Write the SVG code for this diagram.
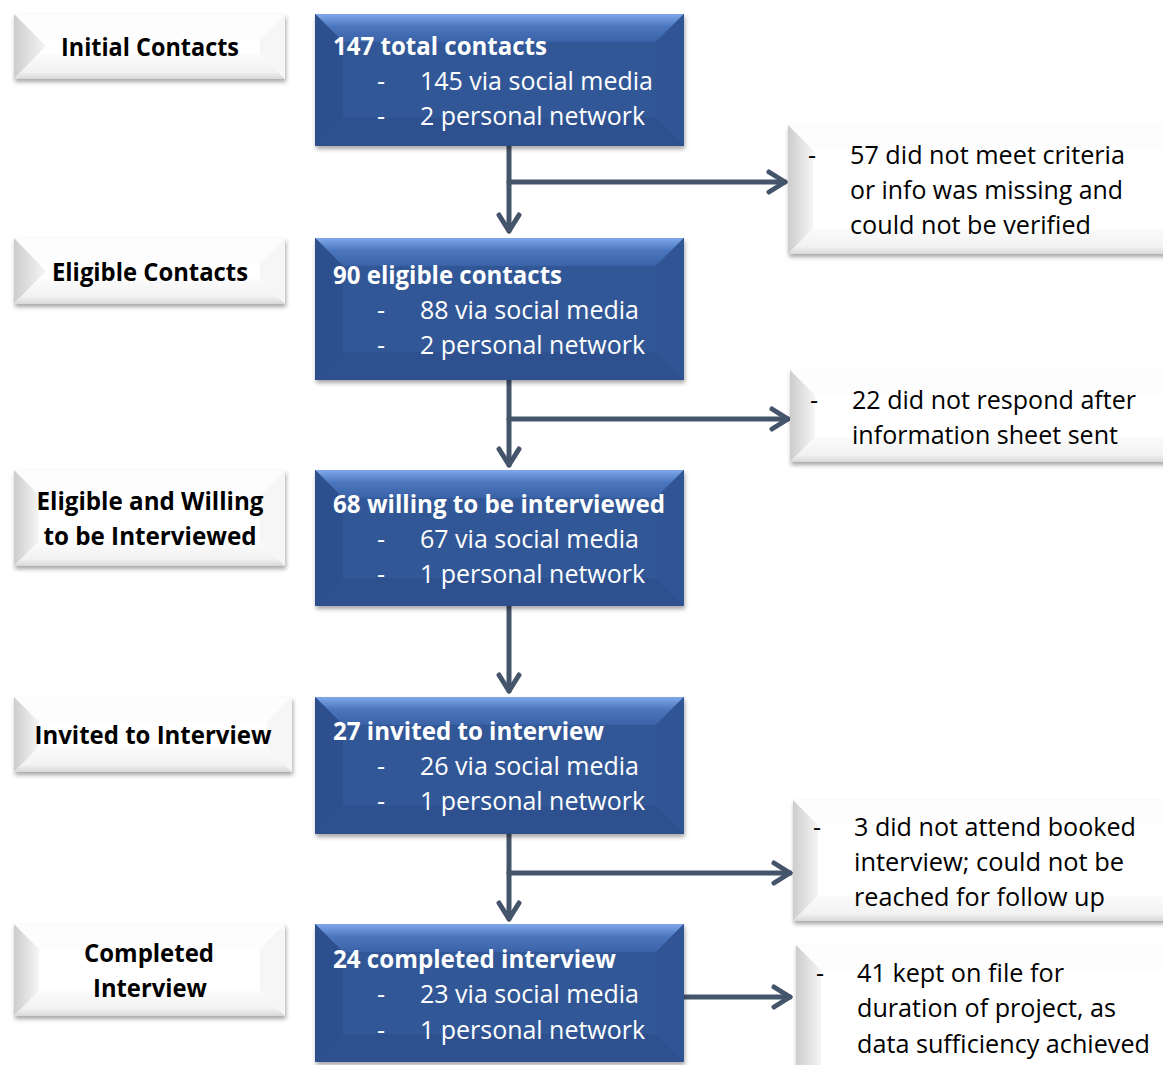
<svg xmlns="http://www.w3.org/2000/svg" width="1163" height="1065" viewBox="0 0 1163 1065">
<style>
.t{font-family:"Open Sans","Liberation Sans",sans-serif;font-size:25px}
.b{font-weight:bold}
.w{fill:#ffffff}
.k{fill:#000000}
.c{text-anchor:middle}
.ln{fill:none;stroke:#44546A;stroke-width:5;stroke-linecap:round;stroke-linejoin:round}
.bm{fill:#325797}
.bl{fill:#2d4f8d}
.br{fill:#305494}
.bb{fill:#2e508f}
.wl{fill:url(#wLeft)}
.wr{fill:#f6f6f6}
.wt{fill:#fdfdfd}
.wb{fill:url(#wBot)}
.wm{fill:#ffffff}
</style>
<defs>
<linearGradient id="bTop" x1="0" y1="0" x2="0" y2="1">
<stop offset="0" stop-color="#7fa8ea"/>
<stop offset="0.45" stop-color="#4b76bd"/>
<stop offset="1" stop-color="#3a62a7"/>
</linearGradient>
<linearGradient id="wLeft" x1="0" y1="0" x2="1" y2="0">
<stop offset="0" stop-color="#cdcdcd"/>
<stop offset="1" stop-color="#f5f5f5"/>
</linearGradient>
<linearGradient id="wBot" x1="0" y1="0" x2="0" y2="1">
<stop offset="0" stop-color="#fbfbfb"/>
<stop offset="0.7" stop-color="#f2f2f2"/>
<stop offset="1" stop-color="#d8d8d8"/>
</linearGradient>
<filter id="sh" x="-5%" y="-10%" width="115%" height="130%">
<feDropShadow dx="1" dy="3" stdDeviation="2" flood-color="#000" flood-opacity="0.35"/>
</filter>
<marker id="ah" markerUnits="userSpaceOnUse" viewBox="-22 -14 26 28" markerWidth="26" markerHeight="28" refX="0" refY="0" orient="auto">
<path d="M-16,-10 L0,0 L-16,10" fill="none" stroke="#44546A" stroke-width="5" stroke-linecap="round" stroke-linejoin="round"/>
</marker>
</defs>

<!-- connectors -->
<g id="connectors">
<path class="ln" d="M509,146 L509,231" marker-end="url(#ah)"/>
<path class="ln" d="M509,182 L785,182" marker-end="url(#ah)"/>
<path class="ln" d="M509,380 L509,465" marker-end="url(#ah)"/>
<path class="ln" d="M509,419 L788,419" marker-end="url(#ah)"/>
<path class="ln" d="M509,606 L509,691" marker-end="url(#ah)"/>
<path class="ln" d="M509,834 L509,919" marker-end="url(#ah)"/>
<path class="ln" d="M509,873 L790,873" marker-end="url(#ah)"/>
<path class="ln" d="M684,997 L790,997" marker-end="url(#ah)"/>
</g>

<!-- left label boxes -->
<g id="label1">
<g filter="url(#sh)"><rect class="wm" x="14" y="14" width="271" height="65"/></g>
<polygon class="wt" points="14,14 285,14 260,39 39,39"/>
<polygon class="wl" points="14,14 46,46 14,79"/>
<polygon class="wr" points="285,14 260,39 260,54 285,79"/>
<polygon class="wb" points="14,79 39,54 260,54 285,79"/>
<polygon class="wm" points="39,39 260,39 260,54 39,54 46,46"/>
<text class="t b k c" x="150" y="56" textLength="178" lengthAdjust="spacingAndGlyphs">Initial Contacts</text>
</g>
<g id="label2">
<g filter="url(#sh)"><rect class="wm" x="14" y="238" width="271" height="66"/></g>
<polygon class="wt" points="14,238 285,238 260,263 39,263"/>
<polygon class="wl" points="14,238 46,271 14,304"/>
<polygon class="wr" points="285,238 260,263 260,279 285,304"/>
<polygon class="wb" points="14,304 39,279 260,279 285,304"/>
<polygon class="wm" points="39,263 260,263 260,279 39,279 46,271"/>
<text class="t b k c" x="150" y="281" textLength="196" lengthAdjust="spacingAndGlyphs">Eligible Contacts</text>
</g>
<g id="label3">
<g filter="url(#sh)"><rect class="wm" x="14" y="470" width="271" height="96"/></g>
<polygon class="wt" points="14,470 285,470 260,495 39,495"/>
<polygon class="wl" points="14,470 39,495 39,541 14,566"/>
<polygon class="wr" points="285,470 260,495 260,541 285,566"/>
<polygon class="wb" points="14,566 39,541 260,541 285,566"/>
<rect class="wm" x="39" y="495" width="221" height="46"/>
<text class="t b k c" x="150" y="510" textLength="227" lengthAdjust="spacingAndGlyphs">Eligible and Willing</text>
<text class="t b k c" x="150" y="545" textLength="213" lengthAdjust="spacingAndGlyphs">to be Interviewed</text>
</g>
<g id="label4">
<g filter="url(#sh)"><rect class="wm" x="14" y="697" width="278" height="75"/></g>
<polygon class="wt" points="14,697 292,697 267,722 39,722"/>
<polygon class="wl" points="14,697 39,722 39,747 14,772"/>
<polygon class="wr" points="292,697 267,722 267,747 292,772"/>
<polygon class="wb" points="14,772 39,747 267,747 292,772"/>
<rect class="wm" x="39" y="722" width="228" height="25"/>
<text class="t b k c" x="153" y="744" textLength="237" lengthAdjust="spacingAndGlyphs">Invited to Interview</text>
</g>
<g id="label5">
<g filter="url(#sh)"><rect class="wm" x="14" y="924" width="271" height="92"/></g>
<polygon class="wt" points="14,924 285,924 260,949 39,949"/>
<polygon class="wl" points="14,924 39,949 39,991 14,1016"/>
<polygon class="wr" points="285,924 260,949 260,991 285,1016"/>
<polygon class="wb" points="14,1016 39,991 260,991 285,1016"/>
<rect class="wm" x="39" y="949" width="221" height="42"/>
<text class="t b k c" x="149" y="962" textLength="130" lengthAdjust="spacingAndGlyphs">Completed</text>
<text class="t b k c" x="150" y="997" textLength="114" lengthAdjust="spacingAndGlyphs">Interview</text>
</g>

<!-- blue boxes -->
<g id="box1">
<g filter="url(#sh)"><rect class="bm" x="315" y="14" width="369" height="132"/></g>
<polygon fill="url(#bTop)" points="315,14 684,14 656,42 343,42"/>
<polygon class="bl" points="315,14 343,42 343,118 315,146"/>
<polygon class="br" points="684,14 656,42 656,118 684,146"/>
<polygon class="bb" points="315,146 343,118 656,118 684,146"/>
<rect class="bm" x="343" y="42" width="313" height="76"/>
<text class="t b w" x="333" y="55" textLength="214" lengthAdjust="spacingAndGlyphs">147 total contacts</text>
<text class="t w" x="377" y="90">-</text>
<text class="t w" x="420" y="90" textLength="233" lengthAdjust="spacingAndGlyphs">145 via social media</text>
<text class="t w" x="377" y="125">-</text>
<text class="t w" x="420" y="125" textLength="225" lengthAdjust="spacingAndGlyphs">2 personal network</text>
</g>
<g id="box2">
<g filter="url(#sh)"><rect class="bm" x="315" y="238" width="369" height="142"/></g>
<polygon fill="url(#bTop)" points="315,238 684,238 656,266 343,266"/>
<polygon class="bl" points="315,238 343,266 343,352 315,380"/>
<polygon class="br" points="684,238 656,266 656,352 684,380"/>
<polygon class="bb" points="315,380 343,352 656,352 684,380"/>
<rect class="bm" x="343" y="266" width="313" height="86"/>
<text class="t b w" x="333" y="284" textLength="229" lengthAdjust="spacingAndGlyphs">90 eligible contacts</text>
<text class="t w" x="377" y="319">-</text>
<text class="t w" x="420" y="319" textLength="219" lengthAdjust="spacingAndGlyphs">88 via social media</text>
<text class="t w" x="377" y="354">-</text>
<text class="t w" x="420" y="354" textLength="225" lengthAdjust="spacingAndGlyphs">2 personal network</text>
</g>
<g id="box3">
<g filter="url(#sh)"><rect class="bm" x="315" y="470" width="369" height="136"/></g>
<polygon fill="url(#bTop)" points="315,470 684,470 656,498 343,498"/>
<polygon class="bl" points="315,470 343,498 343,578 315,606"/>
<polygon class="br" points="684,470 656,498 656,578 684,606"/>
<polygon class="bb" points="315,606 343,578 656,578 684,606"/>
<rect class="bm" x="343" y="498" width="313" height="80"/>
<text class="t b w" x="333" y="513" textLength="332" lengthAdjust="spacingAndGlyphs">68 willing to be interviewed</text>
<text class="t w" x="377" y="548">-</text>
<text class="t w" x="420" y="548" textLength="219" lengthAdjust="spacingAndGlyphs">67 via social media</text>
<text class="t w" x="377" y="583">-</text>
<text class="t w" x="420" y="583" textLength="225" lengthAdjust="spacingAndGlyphs">1 personal network</text>
</g>
<g id="box4">
<g filter="url(#sh)"><rect class="bm" x="315" y="697" width="369" height="137"/></g>
<polygon fill="url(#bTop)" points="315,697 684,697 656,725 343,725"/>
<polygon class="bl" points="315,697 343,725 343,806 315,834"/>
<polygon class="br" points="684,697 656,725 656,806 684,834"/>
<polygon class="bb" points="315,834 343,806 656,806 684,834"/>
<rect class="bm" x="343" y="725" width="313" height="81"/>
<text class="t b w" x="333" y="740" textLength="271" lengthAdjust="spacingAndGlyphs">27 invited to interview</text>
<text class="t w" x="377" y="775">-</text>
<text class="t w" x="420" y="775" textLength="219" lengthAdjust="spacingAndGlyphs">26 via social media</text>
<text class="t w" x="377" y="810">-</text>
<text class="t w" x="420" y="810" textLength="225" lengthAdjust="spacingAndGlyphs">1 personal network</text>
</g>
<g id="box5">
<g filter="url(#sh)"><rect class="bm" x="315" y="924" width="369" height="138"/></g>
<polygon fill="url(#bTop)" points="315,924 684,924 656,952 343,952"/>
<polygon class="bl" points="315,924 343,952 343,1034 315,1062"/>
<polygon class="br" points="684,924 656,952 656,1034 684,1062"/>
<polygon class="bb" points="315,1062 343,1034 656,1034 684,1062"/>
<rect class="bm" x="343" y="952" width="313" height="82"/>
<text class="t b w" x="333" y="968" textLength="283" lengthAdjust="spacingAndGlyphs">24 completed interview</text>
<text class="t w" x="377" y="1003">-</text>
<text class="t w" x="420" y="1003" textLength="219" lengthAdjust="spacingAndGlyphs">23 via social media</text>
<text class="t w" x="377" y="1039">-</text>
<text class="t w" x="420" y="1039" textLength="225" lengthAdjust="spacingAndGlyphs">1 personal network</text>
</g>

<!-- right boxes -->
<g id="excl1">
<g filter="url(#sh)"><rect class="wm" x="788" y="125" width="400" height="129"/></g>
<polygon class="wt" points="788,125 1188,125 1163,150 813,150"/>
<polygon class="wl" points="788,125 813,150 813,229 788,254"/>
<polygon class="wb" points="788,254 813,229 1188,229 1188,254"/>
<rect class="wm" x="813" y="150" width="375" height="79"/>
<text class="t k" x="808" y="164">-</text>
<text class="t k" x="850" y="164" textLength="275" lengthAdjust="spacingAndGlyphs">57 did not meet criteria</text>
<text class="t k" x="850" y="199" textLength="273" lengthAdjust="spacingAndGlyphs">or info was missing and</text>
<text class="t k" x="850" y="234" textLength="241" lengthAdjust="spacingAndGlyphs">could not be verified</text>
</g>
<g id="excl2">
<g filter="url(#sh)"><rect class="wm" x="790" y="370" width="400" height="92"/></g>
<polygon class="wt" points="790,370 1190,370 1165,395 815,395"/>
<polygon class="wl" points="790,370 815,395 815,437 790,462"/>
<polygon class="wb" points="790,462 815,437 1190,437 1190,462"/>
<rect class="wm" x="815" y="395" width="375" height="42"/>
<text class="t k" x="810" y="409">-</text>
<text class="t k" x="852" y="409" textLength="284" lengthAdjust="spacingAndGlyphs">22 did not respond after</text>
<text class="t k" x="852" y="444" textLength="266" lengthAdjust="spacingAndGlyphs">information sheet sent</text>
</g>
<g id="excl3">
<g filter="url(#sh)"><rect class="wm" x="793" y="800" width="400" height="121"/></g>
<polygon class="wt" points="793,800 1193,800 1168,825 818,825"/>
<polygon class="wl" points="793,800 818,825 818,896 793,921"/>
<polygon class="wb" points="793,921 818,896 1193,896 1193,921"/>
<rect class="wm" x="818" y="825" width="375" height="71"/>
<text class="t k" x="813" y="836">-</text>
<text class="t k" x="854" y="836" textLength="282" lengthAdjust="spacingAndGlyphs">3 did not attend booked</text>
<text class="t k" x="854" y="871" textLength="270" lengthAdjust="spacingAndGlyphs">interview; could not be</text>
<text class="t k" x="854" y="906" textLength="251" lengthAdjust="spacingAndGlyphs">reached for follow up</text>
</g>
<g id="excl4">
<g filter="url(#sh)"><rect class="wm" x="796" y="945" width="400" height="130"/></g>
<polygon class="wt" points="796,945 1196,945 1171,970 821,970"/>
<polygon class="wl" points="796,945 821,970 821,1065 796,1090"/>
<rect class="wm" x="821" y="970" width="375" height="100"/>
<text class="t k" x="816" y="982">-</text>
<text class="t k" x="857" y="982" textLength="207" lengthAdjust="spacingAndGlyphs">41 kept on file for</text>
<text class="t k" x="857" y="1017" textLength="259" lengthAdjust="spacingAndGlyphs">duration of project, as</text>
<text class="t k" x="857" y="1053" textLength="293" lengthAdjust="spacingAndGlyphs">data sufficiency achieved</text>
</g>
</svg>
